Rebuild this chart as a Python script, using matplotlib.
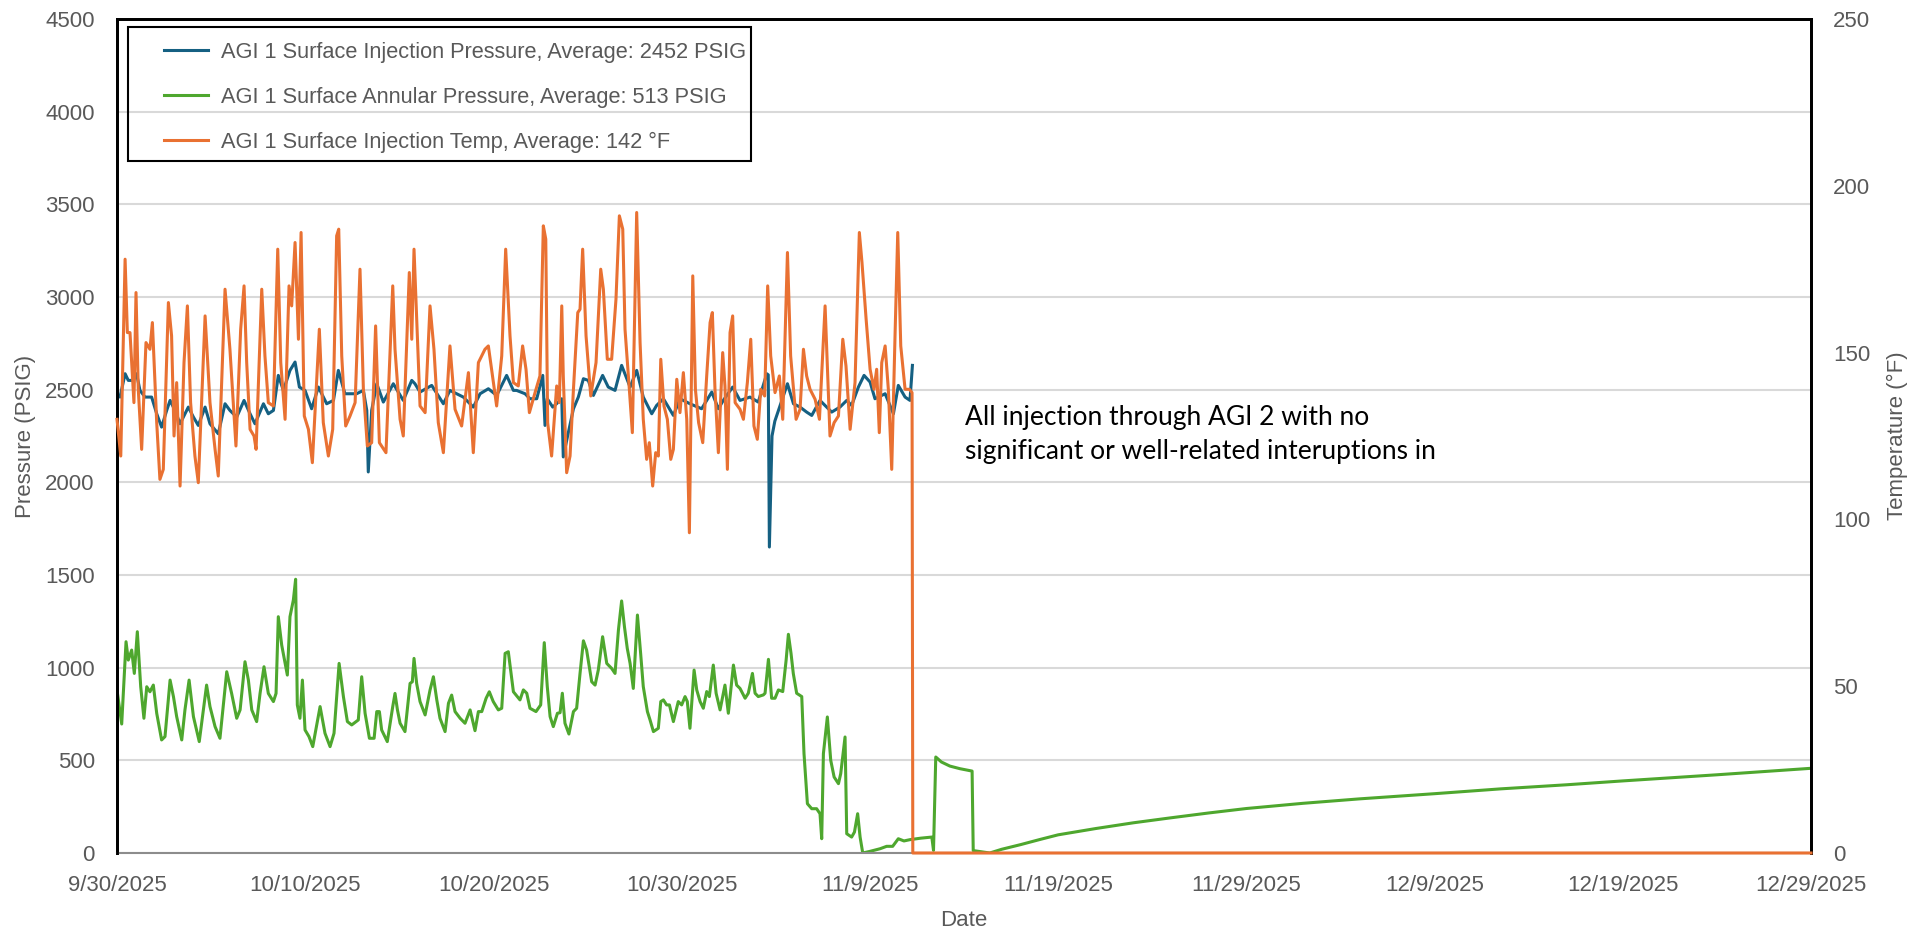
import matplotlib
matplotlib.use("Agg")
import matplotlib.pyplot as plt
from matplotlib.patches import Rectangle
import numpy as np
import pandas as pd

# day offsets from 9/30/2025
start = pd.Timestamp("2025-09-30")

pres_day = [0.0, 0.16, 0.43, 0.6, 0.87, 1.04, 1.22, 1.49, 1.84, 2.11, 2.37, 2.64, 2.82, 3.08, 3.35,
            3.79, 4.06, 4.32, 4.68, 4.94, 5.38, 5.74, 6.0, 6.36, 6.75, 7.07, 7.33, 7.78, 8.04, 8.31,
            8.57, 8.84, 9.19, 9.46, 9.69, 9.99, 10.34, 10.7, 11.14, 11.5, 11.76, 12.11, 12.73, 13.09,
            13.27, 13.35, 13.53, 13.8, 14.15, 14.68, 15.21, 15.66, 15.83, 16.1, 16.72, 17.34, 17.69,
            18.4, 18.93, 19.29, 19.73, 20.17, 20.7, 21.06, 21.23, 21.68, 21.94, 22.3, 22.62, 22.74,
            22.86, 23.15, 23.45, 23.63, 23.71, 23.93, 24.25, 24.51, 24.78, 25.04, 25.31, 25.8, 26.1,
            26.46, 26.81, 27.26, 27.61, 27.96, 28.41, 28.67, 29.03, 29.56, 29.91, 30.44, 31.06, 31.6,
            31.95, 32.21, 32.71, 33.1, 33.63, 34.07, 34.52, 34.6, 34.66, 34.8, 34.95, 35.23, 35.62,
            35.94, 36.29, 36.64, 36.91, 37.35, 37.97, 38.41, 38.77, 39.03, 39.39, 39.69, 40.01, 40.27,
            40.81, 41.25, 41.51, 41.87, 42.13, 42.26]
pres_val = [2478, 2460, 2586, 2550, 2550, 2586, 2496, 2460, 2460, 2370, 2298, 2388, 2442, 2388, 2316,
            2406, 2352, 2307, 2406, 2316, 2262, 2424, 2388, 2352, 2442, 2370, 2316, 2424, 2370, 2388,
            2577, 2496, 2604, 2649, 2514, 2496, 2397, 2514, 2424, 2442, 2604, 2478, 2478, 2496,
            2388, 2056, 2388, 2532, 2433, 2532, 2442, 2550, 2532, 2487, 2523, 2424, 2496,
            2460, 2406, 2478, 2505, 2469, 2577, 2496, 2496, 2478, 2451, 2451, 2577, 2307,
            2451, 2406, 2433, 2451, 2137, 2245, 2397, 2460, 2559, 2550, 2469, 2577, 2514,
            2496, 2631, 2514, 2604, 2460, 2370, 2415, 2451, 2361, 2451, 2424, 2397, 2487,
            2397, 2442, 2514, 2442, 2460, 2433, 2586, 2580, 1651, 2250, 2330, 2415, 2532,
            2424, 2406, 2379, 2361, 2442, 2379, 2406, 2442, 2415, 2514, 2577, 2541, 2451,
            2478, 2370, 2523, 2460, 2442, 2631]

ann_day = [0.0, 0.25, 0.48, 0.6, 0.78, 0.92, 1.08, 1.26, 1.43, 1.58, 1.75, 1.93, 2.11, 2.37, 2.55,
           2.82, 3.0, 3.17, 3.44, 3.61, 3.83, 4.06, 4.37, 4.59, 4.76, 4.94, 5.21, 5.47, 5.83, 6.09,
           6.36, 6.54, 6.8, 6.98, 7.16, 7.42, 7.6, 7.81, 8.04, 8.31, 8.45, 8.57, 8.75, 9.05, 9.19,
           9.37, 9.49, 9.58, 9.72, 9.85, 9.99, 10.2, 10.4, 10.79, 11.05, 11.32, 11.53, 11.8, 12.03,
           12.24, 12.47, 12.82, 13.0, 13.18, 13.41, 13.66, 13.8, 13.94, 14.06, 14.36, 14.65, 14.77,
           14.9, 15.04, 15.3, 15.57, 15.69, 15.78, 15.92, 16.1, 16.37, 16.63, 16.81, 16.99, 17.16,
           17.43, 17.61, 17.78, 17.96, 18.23, 18.49, 18.76, 19.02, 19.2, 19.38, 19.61, 19.78, 19.99,
           20.26, 20.44, 20.62, 20.79, 21.06, 21.41, 21.59, 21.77, 21.94, 22.26, 22.51, 22.7, 22.86,
           23.01, 23.18, 23.4, 23.54, 23.66, 23.8, 24.01, 24.25, 24.42, 24.6, 24.78, 24.95, 25.22,
           25.4, 25.57, 25.8, 26.02, 26.28, 26.46, 26.64, 26.81, 26.96, 27.11, 27.26, 27.43, 27.65,
           27.82, 27.96, 28.18, 28.32, 28.5, 28.76, 28.89, 29.03, 29.2, 29.35, 29.56, 29.82, 30.0,
           30.18, 30.3, 30.44, 30.66, 30.8, 30.98, 31.15, 31.33, 31.47, 31.68, 31.83, 32.04, 32.3,
           32.48, 32.75, 32.92, 33.1, 33.37, 33.54, 33.76, 33.9, 34.07, 34.34, 34.43, 34.61, 34.78,
           34.96, 35.14, 35.37, 35.55, 35.67, 35.81, 35.93, 36.11, 36.38, 36.5, 36.68, 36.91, 37.17,
           37.35, 37.44, 37.53, 37.74, 37.92, 38.1, 38.33, 38.45, 38.68, 38.77, 39.03, 39.18, 39.35,
           39.48, 39.62, 40.01, 40.54, 40.89, 41.21, 41.51, 41.81, 42.13, 42.7, 43.29, 43.38, 43.5,
           43.8, 44.25, 44.78, 45.43, 45.49, 46.37, 47.0, 48.0, 49.0, 50.0, 52.0, 54.0, 56.0, 58.0,
           60.0, 63.0, 66.0, 70.0, 73.5, 77.0, 80.0, 85.0, 90.0]
ann_val = [879, 696, 1140, 1041, 1095, 969, 1194, 897, 727, 897, 870, 906, 754, 610, 628,
           933, 843, 736, 610, 772, 933, 736, 601, 772, 906, 790, 682, 619, 978, 861,
           727, 772, 1032, 933, 772, 709, 861, 1005, 861, 817, 861, 1275, 1122, 960, 1275,
           1365, 1477, 799, 727, 933, 664, 628, 574, 790, 646, 574, 646, 1023, 843,
           709, 691, 718, 951, 754, 619, 619, 763, 763, 664, 601, 790, 861,
           772, 700, 655, 915, 924, 1050, 915, 817, 745, 879, 951, 826, 727,
           655, 808, 852, 763, 727, 700, 772, 660, 763, 763, 835, 870, 817,
           772, 781, 1077, 1086, 870, 826, 880, 862, 781, 763, 799, 1135, 898,
           736, 682, 754, 757, 862, 700, 642, 763, 781, 969, 1145, 1095, 924,
           906, 987, 1167, 1023, 996, 969, 1203, 1360, 1221, 1104, 1023, 888, 1284,
           1077, 898, 763, 718, 655, 673, 817, 826, 799, 799, 709, 817, 799,
           844, 817, 673, 987, 880, 817, 781, 871, 844, 1014, 862, 772, 906,
           754, 1014, 906, 888, 835, 862, 969, 862, 844, 853, 862, 1045, 835,
           835, 880, 871, 1041, 1180, 1077, 969, 862, 844, 536, 266, 239, 239,
           212, 77, 536, 734, 500, 410, 374, 428, 626, 104, 86, 113, 212,
           86, 0, 9, 23, 36, 36, 77, 65, 72, 80, 86, 14, 518,
           491, 469, 455, 442, 13, 0, 20, 45, 72, 98, 132, 163, 190, 216,
           240, 268, 292, 320, 346, 368, 389, 422, 457]

temp_day = [0.0, 0.2, 0.43, 0.55, 0.69, 0.9, 1.01, 1.13, 1.31, 1.54, 1.75, 1.88, 2.11, 2.28, 2.46,
            2.73, 2.9, 3.03, 3.17, 3.35, 3.56, 3.74, 3.91, 4.14, 4.32, 4.68, 4.94, 5.21, 5.38, 5.74,
            6.0, 6.32, 6.57, 6.75, 6.89, 7.07, 7.28, 7.39, 7.69, 7.86, 8.04, 8.31, 8.54, 8.7, 8.93,
            9.14, 9.28, 9.46, 9.64, 9.78, 9.95, 10.17, 10.38, 10.75, 10.96, 11.23, 11.46, 11.67,
            11.78, 11.94, 12.15, 12.38, 12.65, 12.91, 13.09, 13.3, 13.53, 13.74, 13.94, 14.29, 14.65,
            14.77, 15.04, 15.21, 15.53, 15.66, 15.78, 16.1, 16.37, 16.63, 16.84, 17.07, 17.34, 17.69,
            17.96, 18.31, 18.67, 18.93, 19.2, 19.55, 19.73, 20.17, 20.44, 20.65, 20.88, 21.06, 21.32,
            21.55, 21.73, 21.91, 22.21, 22.47, 22.65, 22.78, 22.88, 23.09, 23.36, 23.5, 23.63, 23.71,
            23.89, 24.07, 24.25, 24.48, 24.6, 24.74, 24.92, 25.17, 25.45, 25.7, 25.84, 26.05, 26.28,
            26.51, 26.69, 26.87, 26.99, 27.22, 27.38, 27.61, 27.79, 27.96, 28.14, 28.28, 28.46, 28.62,
            28.76, 28.89, 29.06, 29.24, 29.42, 29.56, 29.74, 29.91, 30.09, 30.27, 30.41, 30.59, 30.73,
            30.9, 31.12, 31.33, 31.51, 31.63, 31.77, 31.95, 32.18, 32.3, 32.43, 32.57, 32.71, 32.84,
            33.1, 33.28, 33.49, 33.67, 33.84, 34.02, 34.2, 34.41, 34.57, 34.73, 34.96, 35.19, 35.37,
            35.62, 35.79, 36.08, 36.29, 36.47, 36.64, 36.82, 37.09, 37.32, 37.62, 37.88, 38.1, 38.33,
            38.56, 38.73, 38.95, 39.21, 39.44, 39.58, 39.8, 40.01, 40.22, 40.36, 40.5, 40.63, 40.81,
            40.98, 41.16, 41.34, 41.48, 41.64, 41.87, 42.1, 42.24, 42.28, 90.0]
temp_val = [130, 119, 178, 156, 156, 135, 168, 139, 121, 153, 151, 159, 129, 112, 115,
            165, 155, 125, 141, 110, 147, 164, 135, 119, 111, 161, 135, 121, 113, 169,
            151, 122, 157, 170, 147, 127, 125, 121, 169, 149, 135, 134, 181, 147, 130,
            170, 164, 183, 154, 186, 131, 127, 117, 157, 129, 119, 127, 185,
            187, 149, 128, 131, 135, 175, 139, 122, 123, 158, 123, 120, 170,
            151, 130, 125, 174, 154, 181, 134, 132, 164, 151, 129, 120, 152,
            133, 128, 144, 120, 147, 151, 152, 134, 149, 181, 155, 141, 140,
            152, 145, 132, 138, 143, 188, 184, 129, 119, 140, 135, 164, 143,
            114, 119, 139, 162, 163, 181, 155, 137, 147, 175, 169, 148, 148,
            166, 191, 187, 157, 139, 126, 192, 153, 130, 118, 123, 110, 120,
            119, 148, 134, 130, 118, 121, 142, 132, 144, 130, 96, 173, 139,
            129, 123, 143, 159, 162, 139, 120, 150, 140, 115, 156, 161, 135,
            133, 130, 141, 154, 128, 124, 139, 137, 170, 149, 138, 143, 130,
            180, 149, 130, 133, 151, 143, 139, 136, 130, 164, 125, 129, 131,
            154, 146, 127, 141, 186, 177, 160, 145, 139, 145, 126, 147, 152,
            139, 115, 156, 186, 152, 139, 139, 138, 0, 0]

labels = ["AGI 1 Surface Injection Pressure, Average: 2452 PSIG",
          "AGI 1 Surface Annular Pressure, Average: 513 PSIG",
          "AGI 1 Surface Injection Temp, Average: 142 °F"]
note = "All injection through AGI 2 with no\nsignificant or well-related interuptions in"


def to_dates(days):
    return start + pd.to_timedelta(np.array(days), unit="D")


c_blue, c_green, c_orange = "#156082", "#4EA72E", "#E97132"
grey = "#595959"
W, H = 1925, 936

fig = plt.figure(figsize=(W / 100, H / 100), dpi=100)
ax = fig.add_axes([117 / W, 1 - 853 / H, 1694 / W, 834 / H])
ax2 = ax.twinx()

l1, = ax.plot(to_dates(pres_day), pres_val, color=c_blue, lw=2.2, label=labels[0])
l2, = ax.plot(to_dates(ann_day), ann_val, color=c_green, lw=2.2, label=labels[1])
l3, = ax2.plot(to_dates(temp_day), temp_val, color=c_orange, lw=2.2, label=labels[2],
               clip_on=False, zorder=3)

ax.set_ylim(0, 4500)
ax.set_yticks(np.arange(0, 4501, 500))
ax2.set_ylim(0, 250)
ax2.set_yticks(np.arange(0, 251, 50))
ax.set_xlim(start, start + pd.Timedelta(days=90))
xt = [start + pd.Timedelta(days=d) for d in range(0, 91, 10)]
ax.set_xticks(xt)
ax.set_xticklabels([f"{d.month}/{d.day}/{d.year}" for d in xt])

ax.grid(axis="y", color="#d9d9d9", lw=1.5)
ax.set_axisbelow(True)

for a in (ax, ax2):
    a.tick_params(length=0, labelsize=16, labelcolor=grey, pad=16)
    for t in a.get_xticklabels() + a.get_yticklabels():
        t.set_family("Liberation Sans")
    for s in ("left", "right", "top"):
        a.spines[s].set_color("black")
        a.spines[s].set_linewidth(2)
ax.spines["bottom"].set_color("#8c8c8c")
ax.spines["bottom"].set_linewidth(1.5)
ax2.spines["bottom"].set_visible(False)

lab = dict(fontsize=16, color=grey, family="Liberation Sans", va="center")
ax.set_xlabel("Date", **lab)
ax.set_ylabel("Pressure (PSIG)", **lab)
ax2.set_ylabel("Temperature (°F)", **lab)
ax.xaxis.set_label_coords(0.5, (853 - 921) / 834)
ax.yaxis.set_label_coords((26 - 117) / 1694, 0.5)
ax2.yaxis.set_label_coords((1897 - 117) / 1694, 0.5)

# legend without its own frame, box drawn separately (no fill, gridline shows through)
leg = ax2.legend(handles=[l1, l2, l3], loc="upper left",
                 bbox_to_anchor=(164 / W, 1 - 42 / H), bbox_transform=fig.transFigure,
                 borderaxespad=0, borderpad=0, frameon=False,
                 prop={"family": "Liberation Sans", "size": 15.7},
                 handlelength=2.0, handletextpad=0.6, labelspacing=1.1, labelcolor=grey)
fig.add_artist(Rectangle((128 / W, 1 - 161 / H), (751 - 128) / W, (161 - 27) / H,
                         transform=fig.transFigure, fill=False, edgecolor="black", lw=1.5))

ax.text((965 - 117) / 1694, (853 - 405) / 834, note, transform=ax.transAxes, va="top",
        ha="left", fontsize=19, family=["Lato", "DejaVu Sans"], linespacing=1.46, color="black")

fig.savefig("out.png", dpi=100)
